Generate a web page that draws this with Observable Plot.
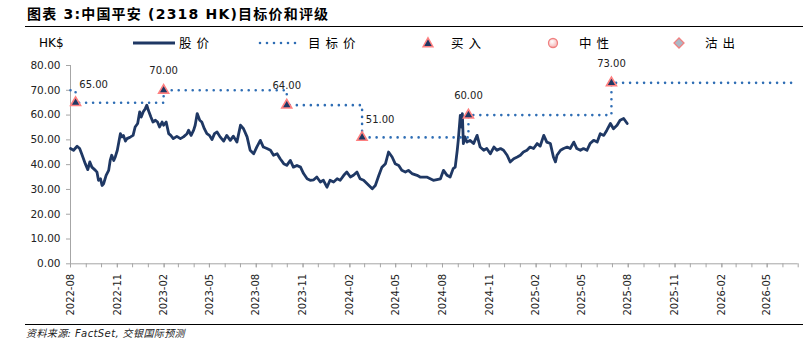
<!DOCTYPE html>
<html>
<head>
<meta charset="utf-8">
<script src="https://cdn.jsdelivr.net/npm/d3@7"></script>
<script src="https://cdn.jsdelivr.net/npm/@observablehq/plot@0.6"></script>
<style>
  html, body { margin: 0; padding: 0; background: #fff; }
  body { width: 804px; height: 353px; position: relative; overflow: hidden;
         font-family: "DejaVu Sans", "Noto Sans CJK SC", sans-serif; color: #000; }
  #title { position: absolute; left: 27px; top: 5px; line-height: 18px; font-size: 14px;
           font-weight: bold; letter-spacing: 1.2px; white-space: nowrap;
           font-family: "DejaVu Sans", "Noto Sans CJK SC", sans-serif; }
  .rule { position: absolute; left: 25px; width: 778px; height: 0; border-top: 1.5px solid #000; }
  .lg { position: absolute; top: 35px; line-height: 16px; white-space: nowrap; }
  .cjk { font-family: "Noto Sans CJK SC", sans-serif; font-size: 12.5px; letter-spacing: 5px; }
  #unit { font-size: 12px; }
  #legendsvg { position: absolute; left: 0; top: 33px; }
  #chart { position: absolute; left: 0; top: 55px; }
  #caption { position: absolute; left: 26px; top: 327px; line-height: 14px; font-size: 10px;
             font-style: italic; color: #222; white-space: nowrap; letter-spacing: 0.4px;
             font-family: "DejaVu Sans", "Noto Sans CJK SC", sans-serif; }
</style>
</head>
<body>
<div id="title">图表 3:中国平安 (2318 HK)目标价和评级</div>
<div class="rule" style="top:26px"></div>

<svg id="legendsvg" width="804" height="20">
  <defs>
    <radialGradient id="neutralFill" cx="40%" cy="35%" r="65%">
      <stop offset="0%" stop-color="#ffffff"/>
      <stop offset="100%" stop-color="#f4b6b6"/>
    </radialGradient>
  </defs>
  <line x1="133" x2="175" y1="10" y2="10" stroke="#1f3864" stroke-width="3"/>
  <line x1="260" x2="296" y1="10" y2="10" stroke="#2e6db4" stroke-width="2.6" stroke-dasharray="0 7" stroke-linecap="round"/>
  <path transform="translate(428,10.5)" d="M0,-5.6L4.9,3.2L-4.9,3.2Z" fill="#1f3864" stroke="#ff8080" stroke-width="1.5"/>
  <circle cx="553" cy="10" r="4.5" fill="url(#neutralFill)" stroke="#f08080" stroke-width="1.3"/>
  <path transform="translate(679,10)" d="M0,-5L5,0L0,5L-5,0Z" fill="#aab8c6" stroke="#f08080" stroke-width="1.3"/>
</svg>
<span class="lg" id="unit" style="left:39px">HK$</span>
<span class="lg cjk" style="left:179px">股价</span>
<span class="lg cjk" style="left:308px">目标价</span>
<span class="lg cjk" style="left:451px">买入</span>
<span class="lg cjk" style="left:579px">中性</span>
<span class="lg cjk" style="left:705px">沽出</span>

<div id="chart"></div>
<div class="rule" style="top:324px"></div>
<div id="caption">资料来源: FactSet, 交银国际预测</div>

<script>
// ---------------- data ----------------
const priceDates = [
  "2022-08-01","2022-08-07","2022-08-14","2022-08-19","2022-08-24","2022-08-30",
  "2022-09-04","2022-09-08","2022-09-12","2022-09-19","2022-09-22","2022-09-25","2022-09-29",
  "2022-10-02","2022-10-05","2022-10-10","2022-10-15","2022-10-18","2022-10-21","2022-10-25","2022-10-28",
  "2022-11-01","2022-11-07","2022-11-10","2022-11-13","2022-11-17","2022-11-20","2022-11-27",
  "2022-12-02","2022-12-06","2022-12-11","2022-12-15","2022-12-18","2022-12-22","2022-12-26","2022-12-29",
  "2023-01-01","2023-01-06","2023-01-10","2023-01-15","2023-01-19","2023-01-23","2023-01-28","2023-01-31",
  "2023-02-05","2023-02-10","2023-02-14","2023-02-19","2023-02-26",
  "2023-03-05","2023-03-11","2023-03-18","2023-03-21","2023-03-26","2023-03-31",
  "2023-04-03","2023-04-07","2023-04-12","2023-04-16","2023-04-21","2023-04-26",
  "2023-05-01","2023-05-06","2023-05-11","2023-05-16","2023-05-22","2023-05-29",
  "2023-06-04","2023-06-11","2023-06-17","2023-06-24",
  "2023-07-01","2023-07-07","2023-07-14","2023-07-20","2023-07-27",
  "2023-08-02","2023-08-09","2023-08-15","2023-08-22","2023-08-29",
  "2023-09-04","2023-09-11","2023-09-17","2023-09-24","2023-09-30",
  "2023-10-07","2023-10-13","2023-10-20","2023-10-27",
  "2023-11-02","2023-11-09","2023-11-15","2023-11-22","2023-11-28",
  "2023-12-05","2023-12-11","2023-12-18","2023-12-24","2023-12-31",
  "2024-01-07","2024-01-13","2024-01-20","2024-01-26",
  "2024-02-02","2024-02-08","2024-02-15","2024-02-21","2024-02-28",
  "2024-03-06","2024-03-16","2024-03-22","2024-03-29",
  "2024-04-04","2024-04-11","2024-04-17","2024-04-24","2024-04-30",
  "2024-05-07","2024-05-13","2024-05-20","2024-05-26",
  "2024-06-02","2024-06-12","2024-06-18","2024-07-01","2024-07-14","2024-07-28",
  "2024-08-03","2024-08-10","2024-08-16","2024-08-22","2024-08-26","2024-08-30",
  "2024-09-01","2024-09-05","2024-09-07","2024-09-09","2024-09-11","2024-09-14","2024-09-18","2024-09-24",
  "2024-10-01","2024-10-08","2024-10-14","2024-10-21","2024-10-27",
  "2024-11-03","2024-11-10","2024-11-16","2024-11-23","2024-11-29",
  "2024-12-06","2024-12-12","2024-12-19","2024-12-26",
  "2025-01-01","2025-01-07","2025-01-14","2025-01-20","2025-01-27",
  "2025-02-03","2025-02-09","2025-02-16","2025-02-22",
  "2025-03-01","2025-03-07","2025-03-11","2025-03-14","2025-03-21","2025-03-27",
  "2025-04-03","2025-04-09","2025-04-16","2025-04-22","2025-04-29",
  "2025-05-05","2025-05-12","2025-05-18","2025-05-25",
  "2025-06-01","2025-06-07","2025-06-14","2025-06-20","2025-06-27",
  "2025-07-03","2025-07-10","2025-07-16","2025-07-23","2025-07-30"
];
const priceValues = [
  46.5,45.8,47.4,46.5,43.8,40.4,
  38.0,41.1,39.0,37.7,37.0,33.7,34.3,
  31.6,32.3,35.7,37.7,41.7,43.8,41.7,43.1,
  45.8,52.5,51.2,51.8,49.5,50.5,51.2,
  51.8,55.2,56.6,61.3,59.2,61.3,62.6,64.0,
  61.9,59.2,57.2,57.9,57.2,55.2,57.2,55.9,
  57.2,52.5,51.8,50.5,51.4,
  50.5,51.2,52.5,53.9,51.8,53.9,
  55.9,60.6,57.9,57.2,54.5,52.5,
  51.8,50.1,52.5,53.2,51.2,49.5,
  51.8,49.8,51.5,49.1,
  55.9,54.5,51.2,45.8,44.4,
  47.1,49.8,47.1,46.5,45.8,
  43.8,44.4,42.4,40.4,39.7,
  41.7,39.0,39.7,39.0,
  36.4,34.3,33.7,33.9,35.0,
  33.0,33.7,30.9,33.7,33.0,
  34.3,33.7,35.7,37.0,
  35.0,35.7,37.0,34.3,33.7,
  32.3,30.3,31.6,35.7,
  39.0,40.4,45.1,43.1,40.4,
  39.7,37.7,37.0,37.7,
  36.4,35.7,35.0,35.0,33.7,34.3,
  37.7,35.7,35.0,38.4,39.0,45.8,
  49.8,59.9,55.2,60.6,48.5,51.2,49.1,49.8,
  48.5,51.8,47.1,45.8,46.5,
  44.4,47.1,45.8,46.5,45.8,
  43.8,41.1,42.4,43.1,
  43.8,45.1,45.8,47.1,46.5,
  48.5,47.5,51.8,49.1,
  48.5,43.1,41.1,43.8,45.8,46.5,
  47.1,46.5,49.1,46.5,45.8,
  46.5,45.8,48.5,49.8,
  49.1,52.5,51.8,53.9,56.6,
  54.5,55.9,57.9,58.6,56.6
];

// rating changes (all "买入") and target prices
const ratingDates   = ["2022-08-11","2023-01-31","2023-09-30","2024-02-25","2024-09-21","2025-06-29"];
const ratingTargets = [65, 70, 64, 51, 60, 73];
const ratingActions = ["买入","买入","买入","买入","买入","买入"];
const priorTargetDate = "2022-08-01";
const priorTarget = 70;
const targetEndDate = "2026-06-22";

// axes
const yTicks = [0, 10, 20, 30, 40, 50, 60, 70, 80];
const xTickLabels = ["2022-08","2022-11","2023-02","2023-05","2023-08","2023-11","2024-02",
                     "2024-05","2024-08","2024-11","2025-02","2025-05","2025-08","2025-11",
                     "2026-02","2026-05"];
const xDomain = ["2022-08-01", "2026-07-01"];

// label placement relative to each triangle (layout only)
const labelSide = ["right","above","above","right","above","above"];

// ---------------- build ----------------
const parse = s => new Date(s + "T00:00:00Z");
const price = priceDates.map((d, i) => ({date: parse(d), value: priceValues[i]}));
const ratings = ratingDates.map((d, i) => ({
  date: parse(d), target: ratingTargets[i], action: ratingActions[i], side: labelSide[i]
}));
const target = [
  {date: parse(priorTargetDate), value: priorTarget},
  ...ratings.map(r => ({date: r.date, value: r.target})),
  {date: parse(targetEndDate), value: ratingTargets[ratingTargets.length - 1]}
];
const domain = xDomain.map(parse);
const majorTicks = xTickLabels.map(s => parse(s + "-01"));
const minorTicks = d3.utcMonth.range(domain[0], new Date(+domain[1] + 86400000));
const fmt2 = d3.format(".2f");
const axisGray = "#a6a6a6";
const navy = "#1f3864";

const chart = Plot.plot({
  width: 804,
  height: 265,
  marginTop: 10,
  marginBottom: 56.7,
  marginLeft: 70,
  marginRight: 6.3,
  style: {fontFamily: "DejaVu Sans, sans-serif", fontSize: "10.5px", background: "transparent", overflow: "visible"},
  x: {type: "utc", domain},
  y: {domain: [0, 80]},
  marks: [
    Plot.axisY({ticks: yTicks, tickFormat: fmt2, tickSize: 4, tickPadding: 6,
                stroke: axisGray, color: "#222", label: null, fontSize: 10.5}),
    Plot.axisX({ticks: minorTicks, tickFormat: () => "", tickSize: 4, stroke: axisGray, label: null}),
    Plot.axisX({ticks: majorTicks, tickFormat: d3.utcFormat("%Y-%m"), tickRotate: -90,
                tickSize: 4, tickPadding: 6, stroke: axisGray, color: "#222", label: null, fontSize: 10}),
    Plot.ruleX([domain[0]], {stroke: axisGray}),
    Plot.ruleY([0], {stroke: axisGray}),
    Plot.line(price, {x: "date", y: "value", stroke: navy, strokeWidth: 2.8,
                      strokeLinejoin: "round", strokeLinecap: "round"}),
    Plot.line(target, {x: "date", y: "value", curve: "step-after", stroke: "#2e6db4",
                       strokeWidth: 2.6, strokeDasharray: "0 7", strokeLinecap: "round"}),
    Plot.dot(ratings, {x: "date", y: "target", symbol: "triangle", r: 3.7,
                       fill: navy, stroke: "#ff8080", strokeWidth: 1.6}),
    Plot.text(ratings.filter(d => d.side === "above"),
              {x: "date", y: "target", text: d => fmt2(d.target), dy: -19, fontSize: 10, fill: "#222"}),
    Plot.text(ratings.filter(d => d.side === "right"),
              {x: "date", y: "target", text: d => fmt2(d.target), dx: 18, dy: -18, fontSize: 10, fill: "#222"})
  ]
});
document.getElementById("chart").appendChild(chart);
</script>
</body>
</html>
